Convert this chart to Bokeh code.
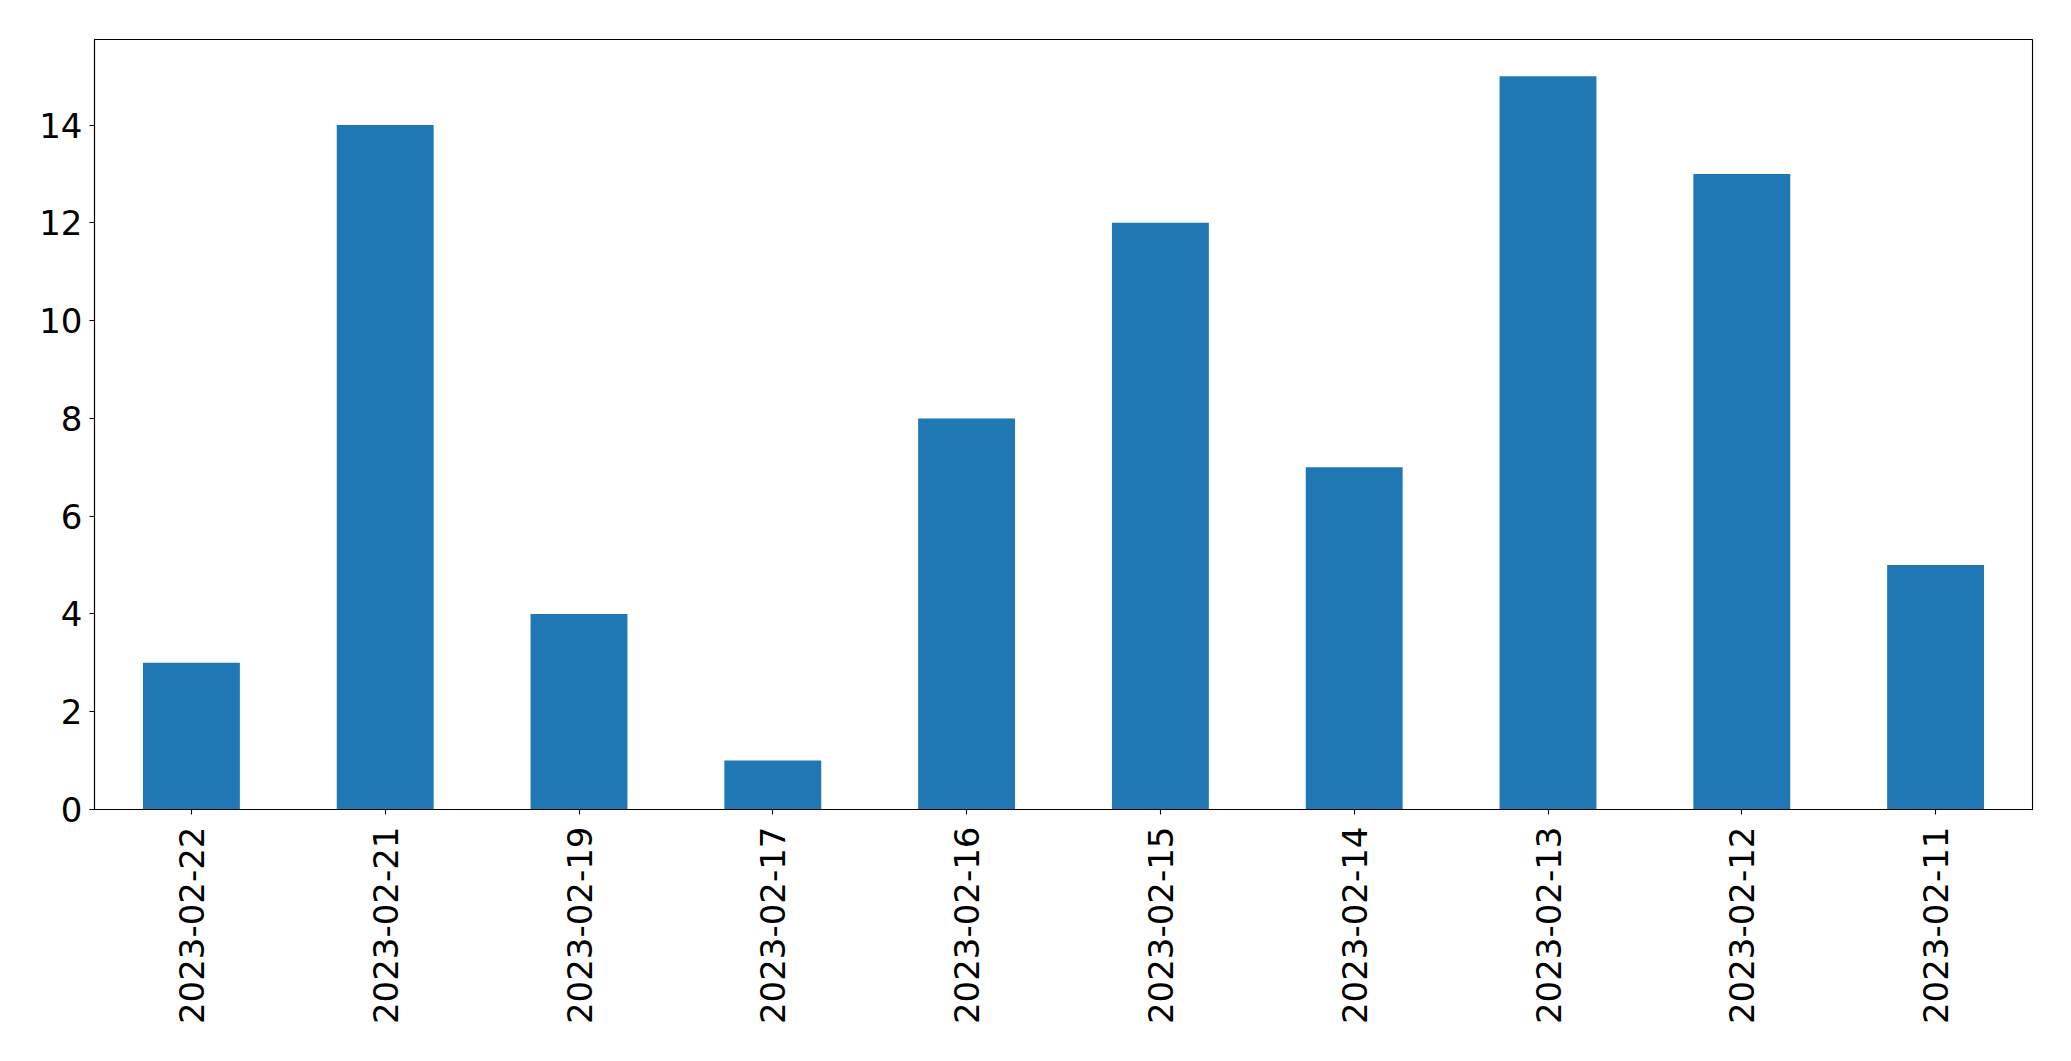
import math
from bokeh.plotting import figure
from bokeh.models import FactorRange, Range1d, FixedTicker
from bokeh.embed import file_html
from bokeh.resources import INLINE

dates = ["2023-02-22", "2023-02-21", "2023-02-19", "2023-02-17", "2023-02-16",
         "2023-02-15", "2023-02-14", "2023-02-13", "2023-02-12", "2023-02-11"]
counts = [3, 14, 4, 1, 8, 12, 7, 15, 13, 5]
y_ticks = [0, 2, 4, 6, 8, 10, 12, 14]

p = figure(
    x_range=FactorRange(factors=dates, range_padding=0),
    y_range=Range1d(0, max(counts) * 1.05),
    frame_width=1938, frame_height=770,
    min_border_left=94, min_border_top=39, min_border_right=23, min_border_bottom=236,
    output_backend="svg", toolbar_location=None,
)
p.vbar(x=dates, top=counts, width=0.5, color="#1f77b4", line_color=None)

p.xgrid.visible = False
p.ygrid.visible = False
p.outline_line_color = "black"
p.outline_line_width = 1.1
p.outline_line_alpha = 1.0

for ax in (p.xaxis[0], p.yaxis[0]):
    ax.major_label_text_font = "DejaVu Sans"
    ax.major_label_text_font_size = "34px"
    ax.major_label_text_color = "black"
    ax.axis_line_color = "black"
    ax.axis_line_width = 1.1
    ax.major_tick_line_color = "black"
    ax.major_tick_line_width = 1.1
    ax.major_tick_out = 5
    ax.major_tick_in = 0
    ax.minor_tick_line_color = None

p.yaxis[0].ticker = FixedTicker(ticks=y_ticks)
p.yaxis[0].major_label_standoff = 7
p.xaxis[0].major_label_orientation = math.pi / 2
p.xaxis[0].major_label_standoff = 12

open("out.html", "w").write(file_html(p, INLINE))
